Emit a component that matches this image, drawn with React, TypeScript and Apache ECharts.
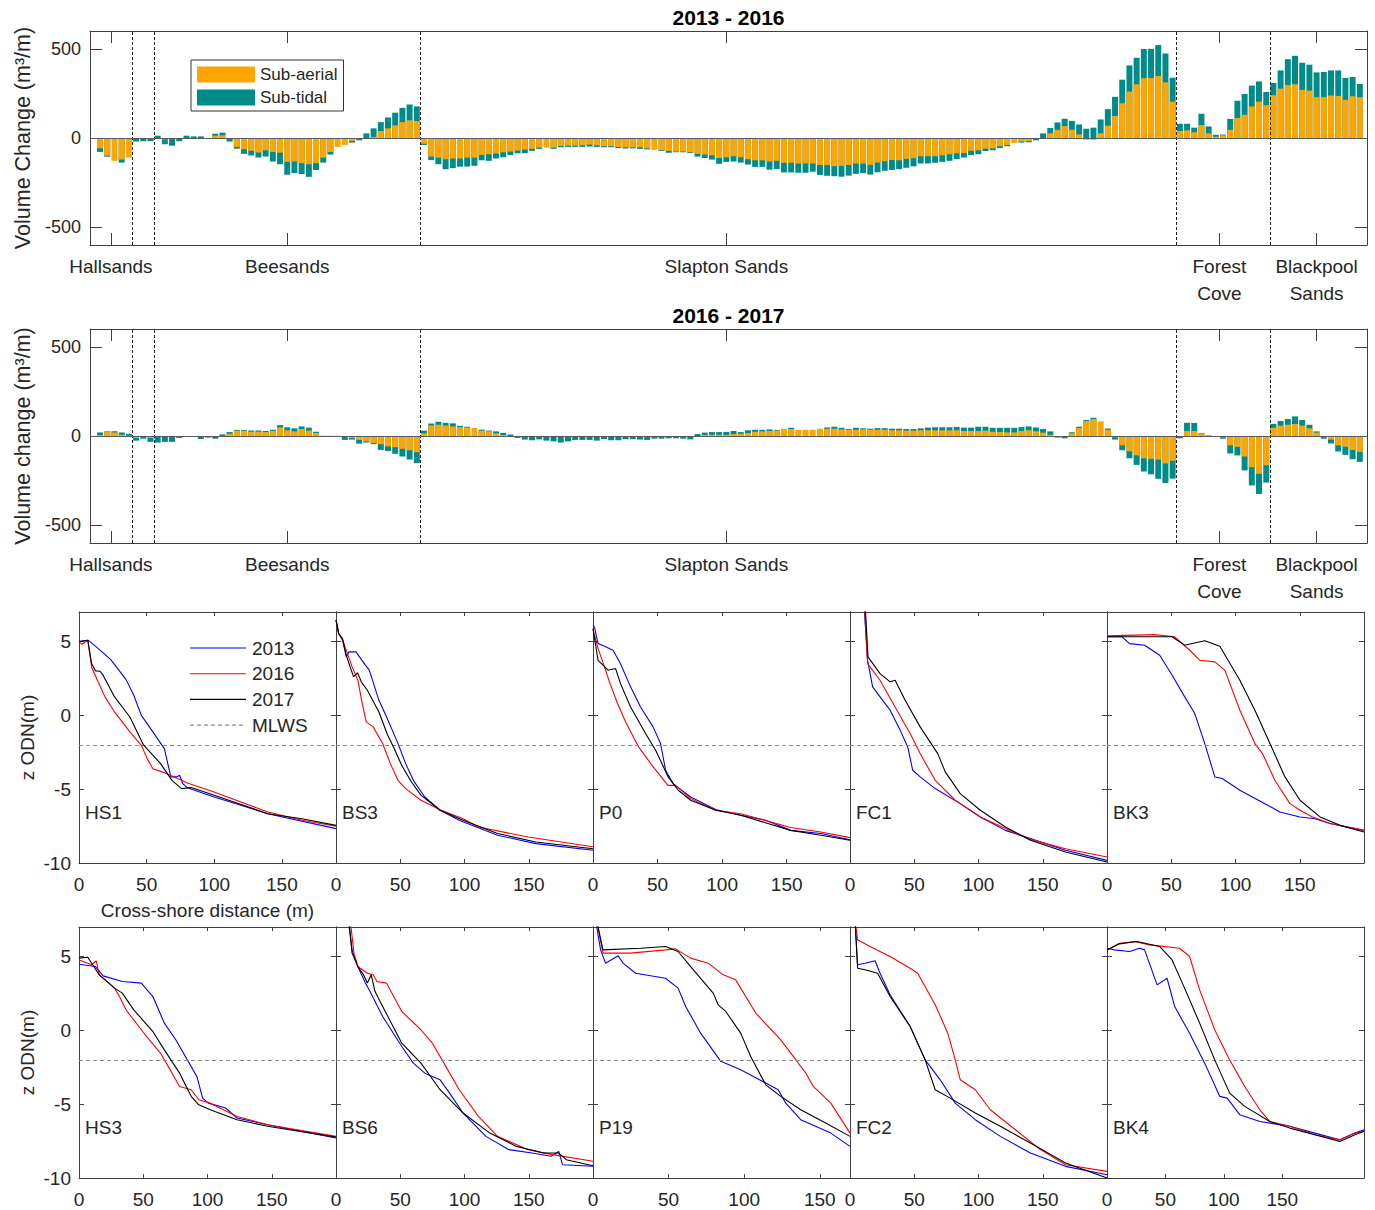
import React, { useEffect, useRef } from "react";
import * as echarts from "echarts";

// ---------------- DATA ----------------
const SITE_TICKS = [1.5, 26, 87, 155.5, 169];
const SITE_LABELS = ["Hallsands", "Beesands", "Slapton Sands", "Forest\nCove", "Blackpool\nSands"];
const SECTION_BOUNDS = [4.5, 7.5, 44.5, 149.5, 162.5];
const VOL_TICKS = [-500, 0, 500];
const VOL_MIN = -600;
const VOL_MAX = 600;
const INDEX_MIN = -1.4;
const INDEX_MAX = 176;

const SUB_AERIAL_1316 = [
  -58, -99, -128, -121, -110, -2, -2, -2, 0, -8, -5, 0, 0, 0, 0, -3, 13, 15, -5, -50,
  -63, -72, -82, -69, -78, -82, -134, -132, -141, -147, -141, -110, -78, -50, -39, -17, -2, 0, 6, 39,
  54, 71, 89, 99, 95, -32, -104, -110, -119, -115, -115, -110, -110, -95, -91, -87, -80, -76, -71, -65,
  -61, -54, -54, -54, -45, -43, -43, -41, -37, -41, -46, -46, -50, -52, -52, -52, -58, -67, -69, -72,
  -76, -76, -80, -89, -93, -97, -112, -108, -102, -108, -119, -125, -125, -132, -128, -139, -139, -143, -143, -143,
  -151, -152, -158, -156, -151, -143, -143, -151, -138, -130, -123, -125, -117, -113, -102, -102, -102, -97, -91, -86,
  -84, -72, -69, -60, -58, -46, -39, -28, -20, -17, -2, 0, 26, 46, 67, 46, 20, -10, -11, 26,
  69, 123, 195, 260, 301, 335, 336, 348, 312, 204, 39, 43, 32, 73, 26, 7, 15, 46, 112, 130,
  177, 204, 184, 240, 277, 297, 301, 270, 266, 229, 229, 238, 236, 214, 234, 229,
];
const SUB_TIDAL_1316 = [
  -20, -6, 0, -17, 0, -18, -16, -15, 13, -27, -38, -18, 13, 9, 9, 0, 11, 15, -15, -10,
  -26, -26, -28, -35, -54, -65, -72, -65, -61, -71, -39, -28, -15, 0, 0, -9, -11, 26, 48, 50,
  61, 71, 80, 89, 82, -7, -20, -37, -56, -54, -46, -50, -46, -30, -37, -28, -28, -19, -15, -20,
  -11, -7, 0, -7, -7, -7, -7, -9, -11, -9, -6, -6, -6, -7, -6, -9, -6, 0, -4, -11,
  -4, -4, -4, -15, -19, -24, -33, -26, -30, -30, -30, -37, -37, -46, -46, -54, -54, -52, -52, -46,
  -56, -60, -56, -61, -60, -58, -54, -54, -54, -54, -56, -50, -50, -46, -41, -41, -37, -37, -37, -32,
  -26, -24, -22, -13, -11, -11, -7, 0, -6, -7, -11, 26, 30, 41, 41, 50, 56, 52, 58, 78,
  93, 108, 132, 147, 149, 164, 164, 173, 162, 134, 41, 37, 26, 63, 39, 11, 4, 61, 97, 117,
  117, 113, 74, 69, 102, 145, 160, 152, 145, 139, 141, 141, 143, 123, 108, 74,
];
const SUB_AERIAL_1617 = [
  6, 22, 20, 7, 3, -11, -4, -11, -3, 0, 0, 0, 0, 0, 0, 0, 0, 0, 13, 30,
  30, 24, 24, 22, 28, 48, 32, 26, 39, 30, 17, 2, 2, 1, -4, -11, -22, -30, -39, -46,
  -58, -63, -72, -80, -91, 15, 59, 63, 59, 54, 50, 48, 45, 30, 26, 15, 6, 0, 0, 0,
  0, 0, 0, 0, -5, 0, 0, 0, 0, 0, 0, 0, 0, 0, 0, 0, 0, 0, 0, 0,
  0, 0, 0, 0, 6, 7, 7, 6, 11, 13, 17, 24, 26, 28, 30, 41, 39, 35, 35, 35,
  41, 41, 41, 37, 35, 35, 37, 35, 35, 35, 32, 32, 30, 30, 32, 32, 32, 32, 32, 32,
  28, 28, 28, 30, 24, 22, 20, 20, 28, 32, 26, 19, 7, 0, 0, 15, 45, 84, 95, 82,
  35, -7, -52, -86, -108, -125, -128, -132, -154, -139, -2, 28, 28, 15, 6, 0, -7, -52, -61, -115,
  -175, -212, -164, 46, 58, 63, 67, 58, 43, 19, -6, -20, -52, -60, -78, -89,
];
const SUB_TIDAL_1617 = [
  14, 4, 7, 13, 10, -15, -11, -22, -34, -33, -33, -11, -6, 0, -17, -9, -15, 9, 9, 4,
  4, 7, 7, 6, 7, 13, 17, 17, 15, 17, 7, 0, 0, 0, -18, -9, -21, -7, -7, -32,
  -26, -37, -43, -52, -61, 15, 11, 17, 15, 17, 7, 4, 0, 6, 4, 11, 11, 9, -11, -20,
  -24, -19, -26, -30, -32, -30, -22, -22, -22, -26, -17, -24, -24, -17, -17, -20, -22, -15, -15, -13,
  -13, -15, -19, 11, 13, 15, 15, 17, 17, 9, 15, 11, 9, 9, 4, 0, 7, 0, 0, 0,
  0, 7, 11, 9, 4, 11, 6, 6, 9, 9, 9, 9, 9, 9, 11, 15, 17, 17, 17, 19,
  19, 19, 24, 22, 22, 24, 26, 26, 22, 22, 22, 20, 19, -9, -13, 6, 7, 6, 7, 0,
  7, -13, -28, -39, -54, -74, -87, -108, -110, -100, -11, 46, 45, 2, 0, 0, -8, -46, -48, -78,
  -102, -113, -97, 22, 26, 32, 43, 32, 20, 7, -9, -22, -35, -46, -52, -56,
];

// Cross-shore profiles: [distance (m), z ODN (m)]
const HS1_2013 = [[0, 5.0], [7, 5.08], [13.6, 4.57], [23.5, 3.78], [34.8, 2.42], [40.5, 1.36], [46.1, 0], [54.6, -1.12], [63.1, -2.25], [67.9, -4.17], [72.1, -4.17], [74.4, -4.06], [76.7, -4.62], [80, -4.9], [99.9, -5.53], [139.5, -6.66], [190, -7.67]];
const HS1_2016 = [[0, 4.98], [2.3, 4.82], [6.5, 5.09], [9.3, 3.28], [13.6, 2.38], [19.2, 1.25], [26.3, 0.23], [37.6, -1.12], [46.1, -2.03], [50.4, -2.93], [54.6, -3.61], [63.1, -3.88], [73, -4.28], [80.1, -4.58], [99.9, -5.19], [139.5, -6.54], [164.9, -7.11], [190, -7.51]];
const HS1_2017 = [[0, 5.0], [6.5, 5.09], [9.3, 3.51], [12.2, 3.01], [15.6, 2.99], [17.8, 2.72], [26.3, 1.25], [37.6, -0.11], [47.5, -1.98], [60.3, -3.27], [68.7, -4.4], [75.8, -4.96], [82.9, -4.89], [99.9, -5.41], [139.5, -6.66], [164.9, -7.0], [190, -7.45]];

const BS3_2013 = [[0, 6.45], [2.1, 5.54], [5.1, 5.09], [8, 3.96], [10.1, 4.3], [15.5, 4.3], [22.9, 3.4], [25.9, 3.06], [33.4, 1.02], [39.3, -0.1], [48.2, -1.9], [54.2, -3.27], [60.2, -4.4], [69.1, -5.53], [81, -6.43], [95.9, -7.1], [125.7, -8.12], [155.5, -8.69], [200, -9.14]];
const BS3_2016 = [[0, 6.45], [2.1, 5.54], [5.1, 5.1], [8, 4.4], [12.5, 3.3], [17, 2.38], [20, 1.0], [23.5, -0.44], [28.9, -0.78], [36.3, -1.91], [42.3, -3.27], [48.2, -4.4], [54.2, -4.96], [66.1, -5.75], [81, -6.4], [98.9, -7.0], [110.8, -7.56], [149.5, -8.24], [200, -8.9]];
const BS3_2017 = [[0, 6.45], [2.1, 5.54], [5.1, 5.2], [8, 4.07], [11, 3.28], [13.7, 2.61], [16.7, 2.88], [19.7, 2.27], [24.4, 1.7], [33.4, 0.23], [40, -1.3], [45, -2.2], [51.2, -3.4], [58.6, -4.5], [66.1, -5.4], [81, -6.43], [98.9, -7.1], [125.7, -8.0], [155.5, -8.58], [200, -9.03]];

const P0_2013 = [[0, 6.1], [1.2, 5.95], [3.9, 4.86], [9.7, 4.64], [15.5, 4.41], [21.3, 3.5], [29.1, 1.93], [36.8, 0.57], [46.5, -0.78], [52.3, -1.91], [54.3, -2.82], [56.2, -3.72], [62, -4.62], [75.6, -5.53], [95, -6.38], [114.4, -6.77], [133.8, -7.1], [153.1, -7.79], [176.4, -8.0], [199, -8.42]];
const P0_2016 = [[0, 5.8], [4, 4.5], [8, 3.5], [13, 2.2], [19, 0.8], [25, -0.4], [35, -2.1], [45, -3.3], [58, -4.74], [64, -4.74], [75.6, -5.64], [95, -6.43], [114.4, -6.66], [153.1, -7.6], [176.4, -7.9], [199, -8.28]];
const P0_2017 = [[0, 5.88], [3.9, 3.73], [7.8, 3.4], [11.6, 3.06], [17.5, 3.17], [21.3, 2.15], [29.1, 0.57], [40.7, -1.23], [48.5, -2.36], [58.2, -4.17], [66, -5.07], [75.6, -5.75], [95, -6.43], [114.4, -6.77], [153.1, -7.79], [176.4, -8.12], [199, -8.46]];

const FC1_2013 = [[10.5, 8], [13.7, 3.73], [17.6, 1.93], [23.4, 1.25], [31.2, 0.35], [39, -1.0], [44.9, -2.14], [48.8, -3.72], [54.6, -4.17], [66.3, -4.96], [85.8, -5.98], [101.4, -6.88], [120.9, -7.79], [140.4, -8.35], [167.7, -9.14], [200, -9.82]];
const FC1_2016 = [[10.9, 8], [13.7, 3.5], [23.4, 2.38], [35.1, 0.57], [46.8, -1.23], [54.6, -2.59], [66.3, -4.4], [81.9, -5.75], [101.4, -6.88], [120.9, -7.67], [140.4, -8.4], [167.7, -9.03], [200, -9.59]];
const FC1_2017 = [[11.5, 8], [14, 3.96], [23.4, 2.83], [31.2, 2.27], [35.1, 2.38], [42.9, 1.02], [54.6, -0.78], [68.3, -2.59], [74.1, -3.83], [85.8, -5.3], [101.4, -6.43], [120.9, -7.56], [140.4, -8.46], [167.7, -9.25], [200, -9.93]];

const BK3_2013 = [[0, 5.32], [11.7, 5.32], [17.6, 4.86], [29.3, 4.75], [41, 4.07], [50.7, 2.72], [60.5, 1.25], [68.3, 0.12], [76.1, -1.91], [83.9, -4.17], [89.7, -4.28], [103.4, -5.07], [122.9, -5.98], [134.6, -6.54], [150.2, -6.88], [161.9, -7.0], [173.6, -7.33], [200, -7.79]];
const BK3_2016 = [[0, 5.38], [37, 5.47], [52.7, 5.32], [64.4, 4.41], [72.2, 3.73], [83.9, 3.62], [91.7, 3.06], [103.4, 0.35], [115.1, -1.91], [121, -2.59], [130.6, -4.4], [142.4, -5.98], [150.2, -6.43], [159.9, -6.88], [173.6, -7.33], [200, -7.79]];
const BK3_2017 = [[0, 5.32], [50.7, 5.32], [60.5, 4.75], [76.1, 5.05], [87.8, 4.68], [103.4, 2.38], [115.1, 0.35], [126.8, -1.91], [138.5, -4.17], [150.2, -5.75], [165.8, -6.88], [181.4, -7.45], [200, -7.9]];

const HS3_2013 = [[0, 4.48], [12.8, 4.32], [18.8, 3.69], [33.7, 3.31], [48.5, 3.2], [57.5, 2.29], [66.4, 0.49], [75.3, -0.64], [84.3, -2.0], [91.7, -3.12], [96.2, -4.59], [100.7, -4.93], [114.1, -5.26], [123, -5.94], [146.8, -6.39], [200, -7.29]];
const HS3_2016 = [[0, 4.77], [9.8, 4.44], [13.4, 4.7], [15.8, 3.76], [27.7, 2.86], [32.2, 2.18], [36.6, 1.39], [51.5, -0.3], [63.4, -1.54], [69.4, -2.44], [78.3, -3.8], [87.3, -4.02], [93.2, -4.7], [102.1, -4.93], [123, -5.83], [146.8, -6.39], [200, -7.18]];
const HS3_2017 = [[0, 4.89], [6.8, 4.95], [15.8, 3.76], [27.7, 2.86], [33.7, 2.52], [42.6, 1.39], [57.5, -0.08], [66.4, -1.32], [78.3, -2.9], [87.3, -4.47], [93.2, -5.04], [102.1, -5.38], [123, -6.05], [146.8, -6.5], [200, -7.23]];

const BS6_2013 = [[9.5, 7.5], [12.5, 5.45], [17, 4.32], [22.9, 3.2], [25.9, 2.74], [36.3, 0.94], [51.2, -1.09], [60.2, -2.22], [69.1, -2.9], [81, -3.35], [88.4, -4.25], [98.9, -5.6], [116.7, -7.18], [134.6, -8.08], [152.5, -8.31], [167.4, -8.53], [173.3, -8.2], [176.3, -9.1], [200, -9.2]];
const BS6_2016 = [[11, 7.5], [14, 5.23], [17, 4.32], [24.4, 3.87], [28.9, 3.76], [31.9, 3.31], [39.3, 3.2], [51.2, 1.28], [66.1, 0.04], [75, -0.87], [84, -2.22], [95.9, -4.02], [110.8, -5.83], [125.7, -7.18], [149.5, -8.08], [167.4, -8.4], [200, -8.87]];
const BS6_2017 = [[10, 7.5], [12.5, 5.23], [17, 4.32], [21.4, 3.76], [24.4, 3.2], [27.4, 3.76], [30.4, 2.63], [36.3, 1.62], [51.2, -0.87], [66.1, -2.22], [81, -4.02], [98.9, -5.6], [119.7, -6.96], [140.5, -7.86], [161.4, -8.31], [173.3, -8.31], [179.2, -8.76], [200, -9.17]];

const P19_2013 = [[1.7, 7.5], [5, 5.45], [8.3, 4.55], [16.6, 5.05], [19.9, 4.55], [28.2, 3.87], [48, 3.53], [56.3, 2.86], [61.3, 1.62], [71.2, -0.19], [84.5, -2.1], [97.7, -2.67], [114.3, -3.57], [122.5, -4.02], [127.5, -4.93], [137.4, -6.05], [157.3, -6.96], [170, -7.86]];
const P19_2016 = [[2.3, 7.5], [6.6, 5.23], [24.8, 5.23], [48, 5.45], [54.6, 5.52], [64.6, 4.89], [76.2, 4.55], [86.1, 3.76], [94.4, 3.42], [107.6, 1.17], [124.2, -0.64], [140.8, -2.9], [145.7, -3.8], [157.3, -4.93], [170, -6.96]];
const P19_2017 = [[2.3, 7.5], [6.6, 5.45], [31.5, 5.56], [48, 5.68], [56.3, 5.34], [64.6, 4.32], [79.5, 2.52], [82.8, 1.73], [87.8, 1.28], [97.7, -0.19], [104.3, -1.77], [114.3, -3.69], [124.2, -4.47], [137.4, -5.38], [153.9, -6.28], [170, -7.18]];

const FC2_2013 = [[3.9, 7.5], [5.9, 4.44], [11.7, 4.55], [19.5, 4.71], [23.4, 3.87], [31.2, 2.41], [46.8, 0.26], [58.5, -2.0], [70.2, -3.35], [81.9, -4.93], [97.5, -6.05], [117, -7.18], [140.4, -8.31], [167.7, -9.21], [200, -9.78]];
const FC2_2016 = [[3.9, 7.5], [5.9, 6.13], [15.6, 5.68], [31.2, 5.0], [46.8, 4.21], [52.7, 3.87], [66.3, 1.73], [76.1, -0.19], [81.9, -2.0], [85.8, -3.35], [97.5, -4.02], [109.2, -5.38], [128.7, -6.73], [148.2, -8.08], [167.7, -9.1], [200, -9.55]];
const FC2_2017 = [[3.9, 7.5], [5.9, 4.21], [11.7, 4.1], [21.5, 3.87], [31.2, 2.29], [46.8, 0.26], [58.5, -2.0], [66.3, -4.02], [78, -4.59], [97.5, -5.6], [117, -6.5], [140.4, -7.63], [167.7, -8.98], [200, -10.0]];

const BK4_2013 = [[0, 5.56], [6.4, 5.45], [19.3, 5.34], [27.9, 5.56], [32.2, 5.45], [42.9, 3.08], [51.4, 3.53], [57.9, 1.62], [70.7, -0.19], [83.6, -2.22], [96.5, -4.47], [102.9, -4.59], [113.6, -5.71], [130.8, -6.17], [156.5, -6.5], [177.9, -6.96], [199.3, -7.41], [212.2, -6.96], [220, -6.73]];
const BK4_2016 = [[0, 5.45], [10.7, 5.9], [23.6, 6.02], [36.4, 5.79], [62.2, 5.56], [70.7, 5.0], [79.3, 2.74], [92.2, 0.04], [105, -2.0], [117.9, -3.8], [130.8, -5.38], [139.3, -6.17], [156.5, -6.5], [177.9, -7.07], [199.3, -7.41], [212.2, -6.96], [220, -6.84]];
const BK4_2017 = [[0, 5.45], [10.7, 5.86], [25.7, 6.02], [45, 5.68], [55.7, 4.77], [66.4, 2.86], [79.3, 0.49], [92.2, -2.0], [105, -4.25], [117.9, -5.15], [139.3, -6.17], [156.5, -6.62], [177.9, -7.07], [199.3, -7.52], [212.2, -7.07], [220, -6.84]];

const PROFILE_NAMES = ["HS1", "BS3", "P0", "FC1", "BK3", "HS3", "BS6", "P19", "FC2", "BK4"];
const PROFILE_XMAX = [190, 200, 199, 200, 200, 200, 200, 170, 200, 220];
const PROFILE_DATA = [
  [HS1_2013, HS1_2016, HS1_2017],
  [BS3_2013, BS3_2016, BS3_2017],
  [P0_2013, P0_2016, P0_2017],
  [FC1_2013, FC1_2016, FC1_2017],
  [BK3_2013, BK3_2016, BK3_2017],
  [HS3_2013, HS3_2016, HS3_2017],
  [BS6_2013, BS6_2016, BS6_2017],
  [P19_2013, P19_2016, P19_2017],
  [FC2_2013, FC2_2016, FC2_2017],
  [BK4_2013, BK4_2016, BK4_2017],
];
const SURVEY_YEARS = ["2013", "2016", "2017"];
const X_TICKS = [0, 50, 100, 150];
const Z_TICKS = [-10, -5, 0, 5];
const Z_MIN = -10;
const Z_MAX = 7;
const MLWS_LEVEL = -2;

// ---------------- STYLE / LAYOUT ----------------
const FONT = "'Liberation Sans', Arial, Helvetica, sans-serif";
const AXIS_COLOR = "#404040";
const TEXT_COLOR = "#262626";
const ORANGE = "#FFA500";
const TEAL = "#008B8B";
const YEAR_COLORS = ["#0000FF", "#FF0000", "#000000"];
const MLWS_COLOR = "#8c8c8c";
const MLWS_DASH = [4, 3];

const BAR_LEFT = 90;
const BAR_WIDTH_PX = 1277;
const BAR_HEIGHT_PX = 214;
const BAR_TOPS = [31, 329];
const PANEL_LEFTS = [79, 336, 593, 850, 1107];
const PANEL_W = 257;
const PANEL_H = 251;
const ROW_TOPS = [612, 927];
const PROFILE_LEGEND = { x: 190, y: 648, lineLen: 56, rowGap: 25.7 };

function siteLabel(v: number) {
  const i = SITE_TICKS.findIndex((t) => Math.abs(t - v) < 1e-6);
  return i >= 0 ? SITE_LABELS[i] : "";
}

// cumulative end of the sub-tidal part (stacked on sub-aerial when same sign)
function stackedEnd(aerial: number[], tidal: number[]) {
  return tidal.map((t, i) => (Math.sign(t) === Math.sign(aerial[i]) ? t + aerial[i] : t));
}

function siteAxis(gridIndex: number, position: string, showLabel: boolean) {
  return {
    type: "value",
    gridIndex,
    position,
    min: INDEX_MIN,
    max: INDEX_MAX,
    axisLine: { show: true, onZero: false, lineStyle: { color: AXIS_COLOR, width: 1 } },
    axisTick: { show: true, inside: true, length: 12, customValues: SITE_TICKS, lineStyle: { color: AXIS_COLOR } },
    axisLabel: {
      show: showLabel,
      customValues: SITE_TICKS,
      formatter: (v: number) => siteLabel(v),
      fontSize: 19,
      lineHeight: 27,
      color: TEXT_COLOR,
      fontFamily: FONT,
      margin: 8,
    },
    splitLine: { show: false },
  };
}

function volAxis(gridIndex: number, position: string, showLabel: boolean, name?: string) {
  return {
    type: "value",
    gridIndex,
    position,
    min: VOL_MIN,
    max: VOL_MAX,
    name: name || "",
    nameLocation: "middle",
    nameGap: 54,
    nameRotate: 90,
    nameTextStyle: { fontSize: 21.5, color: TEXT_COLOR, fontFamily: FONT },
    axisLine: { show: true, onZero: false, lineStyle: { color: AXIS_COLOR, width: 1 } },
    axisTick: { show: true, inside: true, length: 12, customValues: VOL_TICKS, lineStyle: { color: AXIS_COLOR } },
    axisLabel: { show: showLabel, customValues: VOL_TICKS, fontSize: 18, color: TEXT_COLOR, fontFamily: FONT, margin: 9 },
    splitLine: { show: false },
  };
}

function distAxis(gridIndex: number, position: string, showLabel: boolean, xmax: number, name?: string) {
  return {
    type: "value",
    gridIndex,
    position,
    min: 0,
    max: xmax,
    name: name || "",
    nameLocation: "middle",
    nameGap: 38,
    nameTextStyle: { fontSize: 19, color: TEXT_COLOR, fontFamily: FONT },
    axisLine: { show: true, onZero: false, lineStyle: { color: AXIS_COLOR, width: 1 } },
    axisTick: { show: true, inside: true, length: 4, customValues: X_TICKS, lineStyle: { color: AXIS_COLOR } },
    axisLabel: { show: showLabel, customValues: X_TICKS, fontSize: 19, color: TEXT_COLOR, fontFamily: FONT, margin: 12 },
    splitLine: { show: false },
  };
}

function zAxis(gridIndex: number, position: string, showLabel: boolean, name?: string) {
  return {
    type: "value",
    gridIndex,
    position,
    min: Z_MIN,
    max: Z_MAX,
    name: name || "",
    nameLocation: "middle",
    nameGap: 42,
    nameRotate: 90,
    nameTextStyle: { fontSize: 19, color: TEXT_COLOR, fontFamily: FONT },
    axisLine: { show: true, onZero: false, lineStyle: { color: AXIS_COLOR, width: 1 } },
    axisTick: { show: true, inside: true, length: 5, customValues: Z_TICKS, lineStyle: { color: AXIS_COLOR } },
    axisLabel: { show: showLabel, customValues: Z_TICKS, fontSize: 19, color: TEXT_COLOR, fontFamily: FONT, margin: 8 },
    splitLine: { show: false },
  };
}

function buildOption() {
  const grid: any[] = [];
  const xAxis: any[] = [];
  const yAxis: any[] = [];
  const series: any[] = [];
  const graphic: any[] = [];
  const title: any[] = [];

  const barCharts = [
    { title: "2013 - 2016", yName: "Volume Change (m³/m)", aerial: SUB_AERIAL_1316, tidal: SUB_TIDAL_1316 },
    { title: "2016 - 2017", yName: "Volume change (m³/m)", aerial: SUB_AERIAL_1617, tidal: SUB_TIDAL_1617 },
  ];

  barCharts.forEach((bc, k) => {
    const gi = grid.length;
    const top = BAR_TOPS[k];
    grid.push({ left: BAR_LEFT, top, width: BAR_WIDTH_PX, height: BAR_HEIGHT_PX, outerBoundsMode: "none", containLabel: false });
    const xi = xAxis.length;
    xAxis.push(siteAxis(gi, "bottom", true), siteAxis(gi, "top", false));
    const yi = yAxis.length;
    yAxis.push(volAxis(gi, "left", true, bc.yName), volAxis(gi, "right", false));
    title.push({
      text: bc.title,
      left: BAR_LEFT + BAR_WIDTH_PX / 2,
      top: top - 24,
      textAlign: "center",
      padding: 0,
      textStyle: { fontSize: 21, fontWeight: "bold", color: "#000", fontFamily: FONT },
    });
    const tidalEnd = stackedEnd(bc.aerial, bc.tidal);
    // sub-tidal drawn first from 0 to the stacked end, sub-aerial drawn over it from 0
    series.push({
      type: "bar",
      name: "Sub-tidal",
      xAxisIndex: xi,
      yAxisIndex: yi,
      barWidth: 6,
      barGap: "-100%",
      silent: true,
      z: 2,
      data: tidalEnd.map((v, i) => [i, v]),
      itemStyle: { color: TEAL },
    });
    series.push({
      type: "bar",
      name: "Sub-aerial",
      xAxisIndex: xi,
      yAxisIndex: yi,
      barWidth: 6,
      barGap: "-100%",
      silent: true,
      z: 3,
      data: bc.aerial.map((v, i) => [i, v]),
      itemStyle: { color: ORANGE },
      markLine: {
        silent: true,
        symbol: ["none", "none"],
        label: { show: false },
        lineStyle: { color: "#1a1a1a", type: [3, 2], width: 1 },
        data: [
          ...SECTION_BOUNDS.map((b) => ({ xAxis: b })),
          { yAxis: 0, lineStyle: { color: "#5a5a5a", type: "solid", width: 1 } },
        ],
      },
    });
  });

  PROFILE_NAMES.forEach((nm, p) => {
    const row = Math.floor(p / 5);
    const col = p % 5;
    const left = PANEL_LEFTS[col];
    const top = ROW_TOPS[row];
    const gi = grid.length;
    grid.push({ left, top, width: PANEL_W, height: PANEL_H, outerBoundsMode: "none", containLabel: false });
    const xi = xAxis.length;
    xAxis.push(
      distAxis(gi, "bottom", true, PROFILE_XMAX[p], p === 0 ? "Cross-shore distance (m)" : ""),
      distAxis(gi, "top", false, PROFILE_XMAX[p])
    );
    const yi = yAxis.length;
    yAxis.push(zAxis(gi, "left", col === 0, col === 0 ? "z ODN(m)" : ""), zAxis(gi, "right", false));
    series.push({
      type: "line",
      name: "MLWS",
      xAxisIndex: xi,
      yAxisIndex: yi,
      data: [],
      symbol: "none",
      silent: true,
      lineStyle: { color: MLWS_COLOR, type: MLWS_DASH, width: 1 },
      markLine: {
        silent: true,
        symbol: ["none", "none"],
        label: { show: false },
        lineStyle: { color: MLWS_COLOR, type: MLWS_DASH, width: 1 },
        data: [{ yAxis: MLWS_LEVEL }],
      },
    });
    PROFILE_DATA[p].forEach((d, j) => {
      series.push({
        type: "line",
        name: SURVEY_YEARS[j],
        xAxisIndex: xi,
        yAxisIndex: yi,
        data: d,
        symbol: "none",
        silent: true,
        clip: true,
        z: 3 + j,
        lineStyle: { color: YEAR_COLORS[j], width: 1.1 },
        itemStyle: { color: YEAR_COLORS[j] },
      });
    });
    graphic.push({
      type: "text",
      left: left + 6,
      top: top + 191,
      silent: true,
      style: { text: nm, fontSize: 19, fill: TEXT_COLOR, fontFamily: FONT },
    });
  });

  // profile legend (lines without markers, as in the figure)
  const legendItems = SURVEY_YEARS.map((y, j) => ({ text: y, color: YEAR_COLORS[j], dash: null as any })).concat([
    { text: "MLWS", color: MLWS_COLOR, dash: MLWS_DASH },
  ]);
  legendItems.forEach((it, j) => {
    const y = PROFILE_LEGEND.y + j * PROFILE_LEGEND.rowGap;
    graphic.push({
      type: "line",
      silent: true,
      shape: { x1: PROFILE_LEGEND.x, y1: y, x2: PROFILE_LEGEND.x + PROFILE_LEGEND.lineLen, y2: y },
      style: { stroke: it.color, lineWidth: 1.1, lineDash: it.dash || null },
    });
    graphic.push({
      type: "text",
      silent: true,
      x: PROFILE_LEGEND.x + PROFILE_LEGEND.lineLen + 6,
      y,
      style: { text: it.text, fontSize: 19, fill: TEXT_COLOR, fontFamily: FONT, verticalAlign: "middle", align: "left" },
    });
  });

  return {
    animation: false,
    backgroundColor: "#ffffff",
    textStyle: { fontFamily: FONT },
    title,
    grid,
    xAxis,
    yAxis,
    series,
    graphic,
    legend: [
      {
        data: ["Sub-aerial", "Sub-tidal"],
        left: 191,
        top: 60,
        orient: "vertical",
        icon: "rect",
        itemWidth: 58,
        itemHeight: 16,
        itemGap: 6,
        padding: [6, 6, 5, 6],
        borderColor: "#333",
        borderWidth: 1,
        backgroundColor: "#fff",
        selectedMode: false,
        textStyle: { fontSize: 17, color: TEXT_COLOR, fontFamily: FONT },
      },
    ],
  };
}

export default function App() {
  const ref = useRef<HTMLDivElement>(null);
  useEffect(() => {
    document.body.style.margin = "0";
    if (!ref.current) return;
    const chart = echarts.init(ref.current, undefined, { renderer: "svg" });
    chart.setOption(buildOption() as any);
    return () => chart.dispose();
  }, []);
  return (
    <div
      ref={ref}
      style={{ position: "absolute", left: 0, top: 0, width: 1375, height: 1210, background: "#fff" }}
    />
  );
}
